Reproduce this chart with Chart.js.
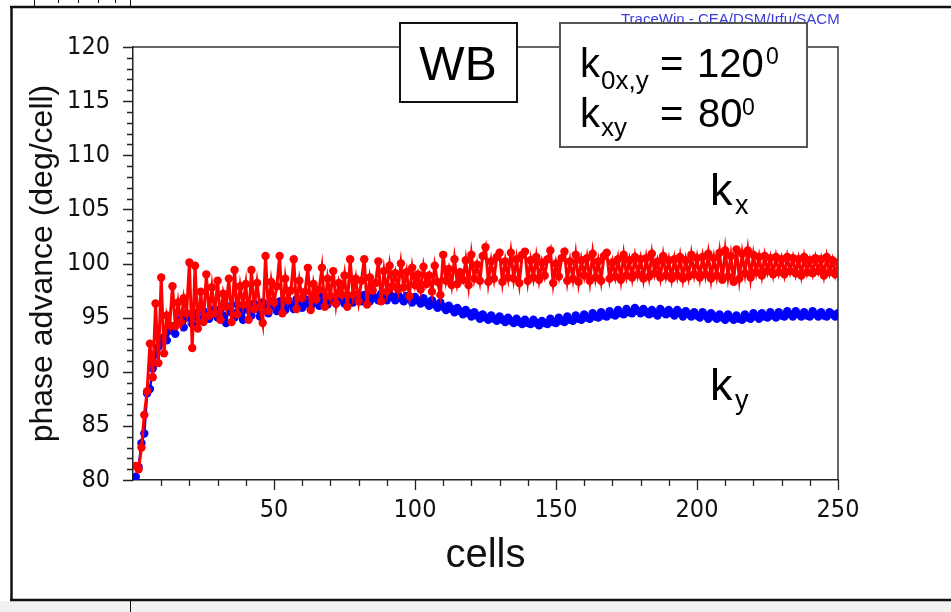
<!DOCTYPE html>
<html>
<head>
<meta charset="utf-8">
<title>phase advance vs cells</title>
<script src="https://cdn.jsdelivr.net/npm/chart.js@4.4.1/dist/chart.umd.min.js"></script>
<style>
  html, body { margin: 0; padding: 0; background: #fff; }
  #chart { display: block; }
</style>
</head>
<body>
<canvas id="chart" width="951" height="612"></canvas>
<script>
// phase advance per cell (deg/cell)
const kx = [
  81.3, 81.0, 83.0, 86.0, 88.2, 92.6, 89.5, 96.3, 90.8, 98.7,
  91.7, 95.2, 94.3, 97.9, 94.2, 96.4, 94.6, 96.8, 95.4, 100.1,
  92.2, 99.8, 94.0, 97.4, 94.6, 99.0, 95.2, 97.8, 95.4, 98.4,
  94.8, 97.2, 96.0, 98.6, 94.6, 99.4, 95.3, 97.9, 96.2, 98.1,
  94.8, 99.4, 95.8, 98.2, 96.0, 94.5, 100.7, 95.6, 98.3, 96.4,
  97.9, 100.7, 95.4, 98.6, 96.6, 97.5, 100.4, 95.8, 98.4, 96.8,
  97.4, 99.6, 95.7, 98.1, 96.7, 97.6, 99.6, 96.0, 98.6, 97.0,
  99.3, 96.3, 98.2, 97.1, 98.9, 96.0, 100.4, 97.1, 98.6, 96.5,
  98.4, 100.4, 96.2, 98.7, 97.5, 98.2, 100.2, 96.5, 99.3, 97.4,
  99.8, 97.9, 99.1, 97.6, 100.0, 97.8, 99.2, 97.0, 99.6, 98.0,
  99.0, 97.6, 99.7, 98.1, 98.9, 97.4, 99.8, 98.3, 97.1, 100.8,
  98.4, 99.5, 98.0, 100.4, 98.1, 99.2, 98.5, 100.3, 98.0, 100.8,
  98.6, 99.9, 98.4, 100.7, 101.5, 98.3, 100.2, 98.6, 100.6, 101.0,
  98.3, 100.2, 98.7, 101.0, 98.6, 100.4, 98.2, 100.8, 101.1, 98.4,
  100.3, 98.7, 100.6, 98.5, 100.1, 98.9, 100.4, 101.2, 98.2, 100.0,
  98.8, 100.5, 101.1, 98.4, 100.2, 98.6, 100.8, 98.3, 100.3, 98.9,
  100.5, 98.4, 100.9, 98.7, 100.2, 98.4, 100.7, 101.0, 98.6, 100.1,
  98.8, 100.4, 98.5, 100.8, 98.9, 100.3, 98.7, 100.6, 99.0, 100.4,
  98.6, 100.5, 98.8, 100.9, 99.1, 100.2, 98.7, 100.7, 98.9, 100.3,
  98.6, 100.4, 98.9, 100.6, 98.6, 100.3, 98.8, 100.8, 99.0, 100.5,
  98.7, 100.6, 99.0, 100.9, 98.6, 100.5, 98.9, 101.0, 98.5, 101.2,
  98.8, 100.7, 98.3, 101.3, 98.6, 100.9, 99.1, 101.2, 98.7, 100.8,
  99.2, 100.6, 98.9, 100.7, 99.3, 100.5, 99.0, 100.6, 99.2, 100.4,
  99.0, 100.6, 99.3, 100.5, 99.1, 100.4, 98.9, 100.6, 99.2, 100.3,
  99.1, 100.5, 99.3, 100.4, 98.9, 100.6, 99.2, 100.3, 99.0, 100.1
];
const ky = [
  80.3, 81.2, 83.4, 84.3, 88.0, 88.4, 90.3, 91.6, 92.3, 92.8,
  93.2, 92.9, 93.8, 94.2, 93.5, 94.6, 94.9, 94.1, 95.1, 95.0,
  94.4, 95.4, 95.0, 94.7, 95.6, 95.2, 94.9, 95.7, 95.3, 95.0,
  95.8, 95.2, 94.5, 96.0, 95.5, 95.0, 96.2, 95.6, 94.8, 96.1,
  95.7, 95.2, 96.3, 95.8, 95.1, 96.4, 95.9, 95.4, 96.5, 96.0,
  95.6, 96.5, 96.1, 95.7, 96.6, 96.2, 95.8, 96.7, 96.3, 95.9,
  96.7, 96.3, 96.0, 96.8, 96.4, 96.1, 96.9, 96.5, 96.2, 96.9,
  96.6, 96.3, 97.0, 96.6, 96.3, 97.0, 96.7, 96.4, 97.1, 96.7,
  96.5, 97.1, 96.8, 96.5, 97.1, 96.8, 96.6, 97.2, 96.9, 96.6,
  97.2, 96.9, 96.6, 97.1, 96.8, 96.5, 97.0, 96.7, 96.4, 96.9,
  96.6, 96.3, 96.8, 96.4, 96.1, 96.6, 96.2, 95.9, 96.4, 96.0,
  95.7, 96.1, 95.8, 95.5, 95.9, 95.6, 95.3, 95.7, 95.4, 95.1,
  95.5, 95.2, 94.9, 95.3, 95.0, 94.8, 95.2, 94.9, 94.7, 95.1,
  94.8, 94.6, 95.0, 94.7, 94.5, 94.9, 94.6, 94.4, 94.8, 94.5,
  94.4, 94.8, 94.5, 94.3, 94.7, 94.5, 94.4, 94.9, 94.6, 94.5,
  95.0, 94.7, 94.6, 95.1, 94.8, 94.7, 95.2, 94.9, 94.8, 95.3,
  95.0, 94.9, 95.4, 95.1, 95.0, 95.5, 95.2, 95.1, 95.6, 95.3,
  95.2, 95.7, 95.4, 95.3, 95.8, 95.5, 95.4, 95.9, 95.6, 95.4,
  95.8, 95.5, 95.3, 95.7, 95.4, 95.2, 95.8, 95.5, 95.3, 95.7,
  95.4, 95.2, 95.7, 95.4, 95.1, 95.6, 95.3, 95.1, 95.5, 95.2,
  95.0, 95.5, 95.2, 94.9, 95.4, 95.1, 94.9, 95.3, 95.0, 94.8,
  95.3, 95.0, 94.8, 95.2, 94.9, 94.8, 95.3, 95.0, 94.9, 95.4,
  95.1, 94.9, 95.4, 95.1, 95.0, 95.5, 95.2, 95.0, 95.5, 95.2,
  95.1, 95.6, 95.3, 95.1, 95.6, 95.3, 95.1, 95.5, 95.2, 95.1,
  95.6, 95.3, 95.1, 95.5, 95.2, 95.1, 95.5, 95.3, 95.1, 95.4
];
const cells = kx.map((_, i) => i + 1);   // cell number 1..250
const xTickLabels = [50, 100, 150, 200, 250];
const yTickLabels = [80, 85, 90, 95, 100, 105, 110, 115, 120];

const TICK_FONT = "'DejaVu Sans Condensed', 'Liberation Sans', sans-serif";
const TEXT_FONT = "'Liberation Sans', Arial, sans-serif";

// white page, outer frame and the leftovers of the figure above
const pageFrame = {
  id: 'pageFrame',
  beforeDraw(chart) {
    const ctx = chart.ctx;
    ctx.save();
    ctx.fillStyle = '#fff';
    ctx.fillRect(0, 0, chart.width, chart.height);
    ctx.fillStyle = '#f1f1f1';
    ctx.fillRect(0, 601, chart.width, chart.height - 601);
    ctx.strokeStyle = '#111';
    ctx.lineWidth = 2.5;
    ctx.beginPath();
    ctx.moveTo(11.5, 6); ctx.lineTo(11.5, 601);
    ctx.moveTo(10, 7); ctx.lineTo(951, 7);
    ctx.moveTo(10, 600); ctx.lineTo(951, 600);
    ctx.stroke();
    ctx.lineWidth = 1;
    ctx.beginPath();
    ctx.moveTo(34.5, 0); ctx.lineTo(34.5, 6);
    ctx.moveTo(130.5, 0); ctx.lineTo(130.5, 6);
    [58, 78, 98, 115].forEach(x => { ctx.moveTo(x + 0.5, 0); ctx.lineTo(x + 0.5, 3); });
    ctx.moveTo(130.5, 601); ctx.lineTo(130.5, 612);
    ctx.stroke();
    ctx.restore();
  },
  beforeDatasetsDraw(chart) {
    const {left, top, right, bottom} = chart.chartArea;
    const ctx = chart.ctx;
    ctx.save();
    ctx.strokeStyle = '#333';
    ctx.lineWidth = 1.5;
    ctx.beginPath();
    ctx.moveTo(left, top); ctx.lineTo(right, top); ctx.lineTo(right, bottom);
    ctx.stroke();
    ctx.restore();
  }
};

// major / minor tick marks, pointing outwards
const tickMarks = {
  id: 'tickMarks',
  afterDraw(chart) {
    const ctx = chart.ctx;
    const {left, bottom} = chart.chartArea;
    const xs = chart.scales.x, ys = chart.scales.y;
    ctx.save();
    ctx.strokeStyle = '#222';
    ctx.lineWidth = 1.3;
    ctx.beginPath();
    xs.ticks.forEach(t => {
      if (t.value <= xs.min) return;
      const px = Math.round(xs.getPixelForValue(t.value)) + 0.5;
      const len = xTickLabels.includes(t.value) ? 10 : 6;
      ctx.moveTo(px, bottom); ctx.lineTo(px, bottom + len);
    });
    ys.ticks.forEach(t => {
      const py = Math.round(ys.getPixelForValue(t.value)) + 0.5;
      const len = yTickLabels.includes(t.value) ? 10 : 6;
      ctx.moveTo(left, py); ctx.lineTo(left - len, py);
    });
    ctx.stroke();
    ctx.restore();
  }
};

function txt(ctx, s, x, y, size, color) {
  ctx.font = size + 'px ' + TEXT_FONT;
  ctx.fillStyle = color || '#000';
  ctx.fillText(s, x, y);
}

// boxes and labels drawn over the plot
const notes = {
  id: 'notes',
  afterDraw(chart) {
    const ctx = chart.ctx;
    ctx.save();
    ctx.textBaseline = 'alphabetic';
    ctx.textAlign = 'left';

    // program credit, cut off by the box below it
    ctx.save();
    ctx.beginPath(); ctx.rect(560, 0, 300, 25); ctx.clip();
    txt(ctx, 'TraceWin - CEA/DSM/Irfu/SACM', 621, 24, 15, '#3b3bd6');
    ctx.restore();

    // WB box
    ctx.fillStyle = '#fff';
    ctx.fillRect(400, 23, 117, 79);
    ctx.strokeStyle = '#111';
    ctx.lineWidth = 2;
    ctx.strokeRect(400, 23, 117, 79);
    ctx.textAlign = 'center';
    txt(ctx, 'WB', 458, 80, 48);
    ctx.textAlign = 'left';

    // k box
    ctx.fillStyle = '#fff';
    ctx.fillRect(560, 23, 247, 124);
    ctx.strokeStyle = '#555';
    ctx.strokeRect(560, 23, 247, 124);
    txt(ctx, 'k', 580, 77, 40);
    txt(ctx, '0x,y', 601, 89, 26);
    txt(ctx, '=', 660, 77, 40);
    txt(ctx, '120', 697, 77, 40);
    txt(ctx, '0', 766, 64, 23);
    txt(ctx, 'k', 580, 127, 40);
    txt(ctx, 'xy', 601, 136, 26);
    txt(ctx, '=', 660, 127, 40);
    txt(ctx, '80', 698, 127, 40);
    txt(ctx, '0', 742, 115, 23);

    // curve labels
    txt(ctx, 'k', 710, 205, 45);
    txt(ctx, 'x', 735, 214, 27);
    txt(ctx, 'k', 710, 400, 45);
    txt(ctx, 'y', 735, 409, 27);
    ctx.restore();
  }
};

new Chart(document.getElementById('chart').getContext('2d'), {
  type: 'line',
  data: {
    labels: cells,
    datasets: [
      {
        label: 'kx',
        data: kx,
        order: 0,
        borderColor: '#ff0000',
        backgroundColor: '#ff0000',
        borderWidth: 3,
        pointRadius: 4.2,
        pointBorderWidth: 0,
        pointBackgroundColor: '#ff0000',
        tension: 0
      },
      {
        label: 'ky',
        data: ky,
        order: 1,
        borderColor: '#0000ff',
        backgroundColor: '#0000ff',
        borderWidth: 2.5,
        pointRadius: 4.2,
        pointBorderWidth: 0,
        pointBackgroundColor: '#0000ff',
        tension: 0
      }
    ]
  },
  options: {
    responsive: false,
    animation: false,
    events: [],
    layout: { padding: { left: 0, right: 113, top: 47, bottom: 0 } },
    plugins: { legend: { display: false }, tooltip: { enabled: false } },
    scales: {
      x: {
        type: 'linear',
        min: 0,
        max: 250,
        afterFit: s => { s.height = 132; },
        border: { color: '#222', width: 1.5 },
        grid: { drawOnChartArea: false, drawTicks: true, tickLength: 10, tickColor: 'rgba(0,0,0,0)' },
        ticks: {
          stepSize: 10,
          autoSkip: false,
          maxRotation: 0,
          padding: 5,
          color: '#111',
          font: { family: TICK_FONT, size: 25 },
          callback: v => xTickLabels.includes(v) ? String(v) : ''
        },
        title: {
          display: true,
          text: 'cells',
          color: '#111',
          font: { family: TEXT_FONT, size: 40 },
          padding: { top: 0, bottom: 32 }
        }
      },
      y: {
        type: 'linear',
        min: 80,
        max: 120,
        afterFit: s => { s.width = 133; },
        border: { color: '#222', width: 1.5 },
        grid: { drawOnChartArea: false, drawTicks: true, tickLength: 10, tickColor: 'rgba(0,0,0,0)' },
        ticks: {
          stepSize: 1,
          autoSkip: false,
          padding: 13,
          color: '#111',
          font: { family: TICK_FONT, size: 25 },
          callback: v => yTickLabels.includes(v) ? String(v) : ''
        },
        title: {
          display: true,
          text: 'phase advance (deg/cell)',
          color: '#111',
          font: { family: TEXT_FONT, size: 32 },
          padding: { top: 24, bottom: 0 }
        }
      }
    }
  },
  plugins: [pageFrame, tickMarks, notes]
});
</script>
</body>
</html>
